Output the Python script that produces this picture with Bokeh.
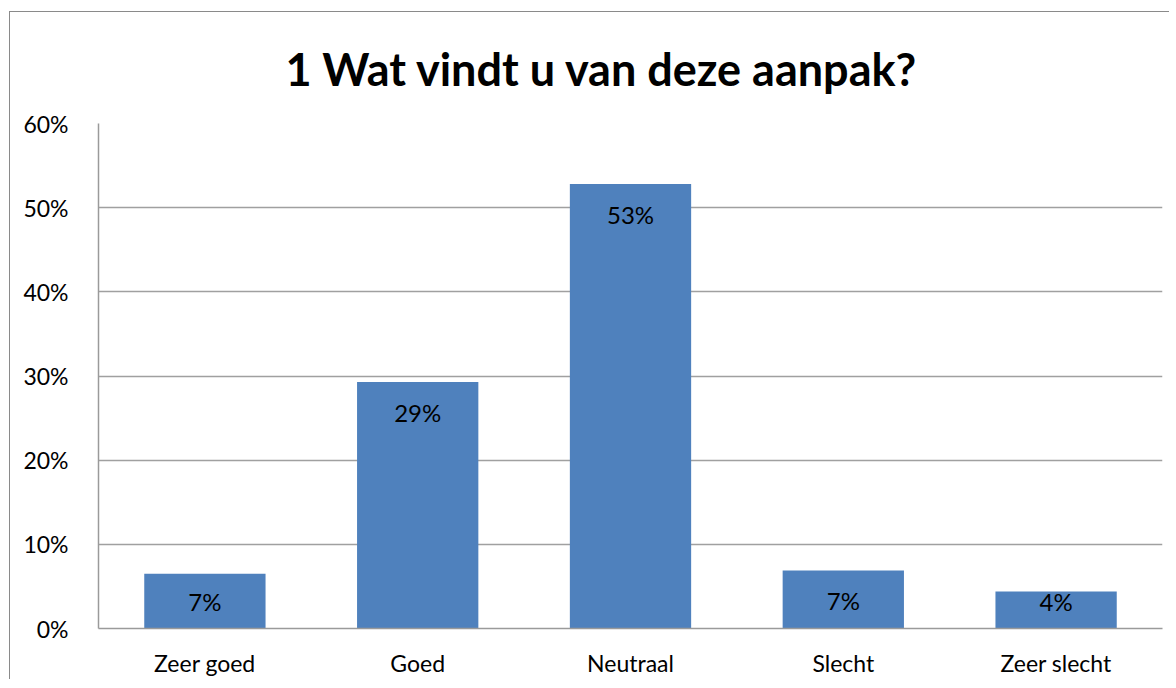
from bokeh.plotting import figure
from bokeh.models import FactorRange, Range1d, FixedTicker, NumeralTickFormatter, ColumnDataSource
from bokeh.core.properties import value
from bokeh.embed import file_html
from bokeh.resources import INLINE

categories = ["Zeer goed", "Goed", "Neutraal", "Slecht", "Zeer slecht"]
shares = [0.065, 0.293, 0.528, 0.069, 0.044]
labels = ["7%", "29%", "53%", "7%", "4%"]
y_ticks = [0, 0.1, 0.2, 0.3, 0.4, 0.5, 0.6]
title_text = "1 Wat vindt u van deze aanpak?"

FONT = "Lato"
label_y = [max(v - 0.036, 0.032) for v in shares]
src = ColumnDataSource(dict(cat=categories, v=shares, lab=labels, ly=label_y))

p = figure(width=1160, height=668, x_range=FactorRange(*categories),
           y_range=Range1d(0, 0.6), output_backend="svg", toolbar_location=None,
           min_border_left=88, min_border_right=8, min_border_bottom=52, min_border_top=111)
p.styles = {"border-left": "1px solid #8a8a8a", "border-top": "1px solid #8a8a8a",
            "margin-left": "9px", "margin-top": "11px"}

p.title.text = title_text
p.title.align = "left"
p.title.text_font = FONT
p.title.text_font_size = "45px"
p.title.text_font_style = "bold"
p.title.text_color = "black"
p.title.standoff = 55
p.title.offset = 187

p.vbar(x="cat", top="v", width=0.57, source=src, fill_color="#4F81BD", line_color=None)
p.text(x="cat", y="ly", text="lab", source=src, text_align="center", text_baseline="middle",
       text_font=value(FONT), text_font_size="24px", text_color="black")

p.outline_line_color = None
p.xgrid.grid_line_color = None
p.ygrid.grid_line_color = "#a0a0a0"
p.ygrid.grid_line_width = 1.5
p.yaxis.ticker = FixedTicker(ticks=y_ticks)
p.yaxis.formatter = NumeralTickFormatter(format="0%")
for ax in (p.xaxis, p.yaxis):
    ax.axis_line_color = "#9a9a9a"
    ax.axis_line_width = 1.5
    ax.major_tick_line_color = None
    ax.minor_tick_line_color = None
    ax.major_label_text_font = FONT
    ax.major_label_text_font_size = "23px"
    ax.major_label_text_color = "black"
p.yaxis.major_label_standoff = 24
p.xaxis.major_label_standoff = 14

open("out.html", "w").write(file_html(p, INLINE))
